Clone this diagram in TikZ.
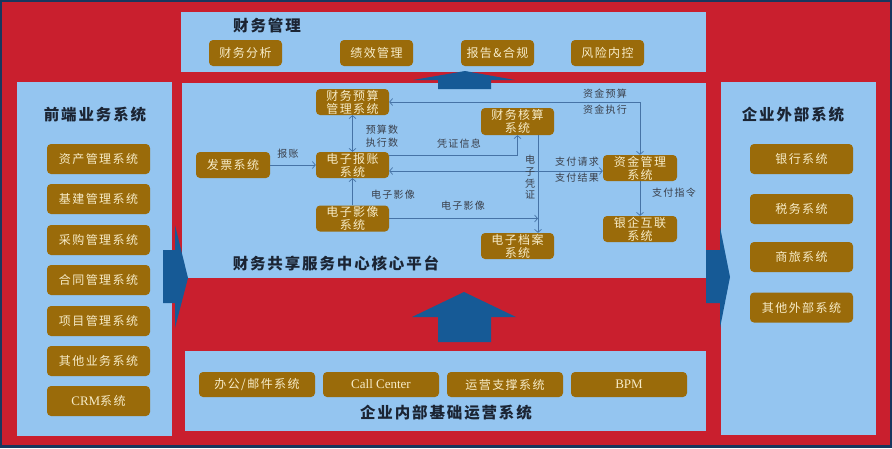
\documentclass[tikz,border=0pt]{standalone}
\usepackage{fontspec}
\setmainfont{Liberation Serif}
\newfontfamily\cjk[LetterSpace=12]{Noto Sans CJK SC}
\usetikzlibrary{arrows.meta}
\definecolor{bgred}{HTML}{C91F2E}
\definecolor{navyc}{HTML}{17375E}
\definecolor{pblue}{HTML}{94C5F0}
\definecolor{abl}{HTML}{165A96}
\definecolor{gold}{HTML}{9A6B0A}
\definecolor{cream}{HTML}{F7ECC8}
\definecolor{ttlc}{HTML}{1B2433}
\definecolor{lnc}{HTML}{4673A6}
\definecolor{lbc}{HTML}{3A3F4A}
\begin{document}
\begin{tikzpicture}[x=1pt,y=-1pt,
 panel/.style={fill=pblue,draw=none},
 gbtn/.style={fill=gold,rounded corners=4pt,text=cream,font=\cjk\fontsize{12}{13}\selectfont,align=center,inner sep=0pt},
 sbtn/.style={gbtn,minimum width=73pt,minimum height=26pt},
 lbtn/.style={gbtn,minimum width=103pt,minimum height=30pt},
 bbtn/.style={gbtn,minimum width=116pt,minimum height=25pt},
 title/.style={text=ttlc,font=\cjk\bfseries\fontsize{15.5}{17}\selectfont,inner sep=0pt},
 lbl/.style={text=lbc,font=\cjk\fontsize{10}{13}\selectfont,inner sep=0pt,align=center},
 conn/.style={draw=lnc,line width=0.7pt,-{Straight Barb[length=3pt,width=7pt]}},
 conntwo/.style={draw=lnc,line width=0.7pt,{Straight Barb[length=3pt,width=7pt]}-{Straight Barb[length=3pt,width=7pt]}},
 bigarrow/.style={fill=abl,draw=none}]
\useasboundingbox (0,0) rectangle (892,448);
% background
\fill[navyc] (0,0) rectangle (892,448);
\fill[bgred] (2,2) rectangle (890,445);
% panels
\path[panel] (181,12) rectangle (706,72);
\path[panel] (17,82) rectangle (172,436);
\path[panel] (182,83) rectangle (706,278);
\path[panel] (721,82) rectangle (876,435);
\path[panel] (185,351) rectangle (706,431);
% big arrows
\path[bigarrow] (438,89) -- (438,80) -- (413,80) -- (465,71) -- (515,80) -- (491,80) -- (491,89) -- cycle;
\path[bigarrow] (438,342) -- (438,317) -- (412,317) -- (464,292) -- (516,317) -- (491,317) -- (491,342) -- cycle;
\path[bigarrow] (163,250) -- (175,250) -- (175,225) -- (188,278) -- (175,328) -- (175,303) -- (163,303) -- cycle;
\path[bigarrow] (706,250) -- (720,250) -- (720,227) -- (730,277) -- (720,328) -- (720,303) -- (706,303) -- cycle;
% top panel
\node[title] (tfm) at (267,26) {财务管理};
\node[sbtn] (t1) at (245.5,53) {财务分析};
\node[sbtn] (t2) at (376.5,53) {绩效管理};
\node[sbtn] (t3) at (497.5,53) {报告\&合规};
\node[sbtn] (t4) at (607.5,53) {风险内控};
% left panel
\node[title] (tqd) at (95,115) {前端业务系统};
\node[lbtn] (q1) at (98.5,159) {资产管理系统};
\node[lbtn] (q2) at (98.5,199) {基建管理系统};
\node[lbtn] (q3) at (98.5,240) {采购管理系统};
\node[lbtn] (q4) at (98.5,280) {合同管理系统};
\node[lbtn] (q5) at (98.5,321) {项目管理系统};
\node[lbtn] (q6) at (98.5,361) {其他业务系统};
\node[lbtn] (q7) at (98.5,401) {{\rmfamily\fontsize{13}{14}\selectfont CRM}系统};
% right panel
\node[title] (twb) at (793,115) {企业外部系统};
\node[lbtn] (r1) at (801.5,159) {银行系统};
\node[lbtn] (r2) at (801.5,209) {税务系统};
\node[lbtn] (r3) at (801.5,257) {商旅系统};
\node[lbtn] (r4) at (801.5,307.5) {其他外部系统};
% bottom panel
\node[bbtn] (b1) at (257,384.5) {办公/邮件系统};
\node[bbtn] (b2) at (381,384.5) {\rmfamily\fontsize{13}{14}\selectfont Call Center};
\node[bbtn] (b3) at (505,384.5) {运营支撑系统};
\node[bbtn] (b4) at (629,384.5) {\rmfamily\fontsize{13}{14}\selectfont BPM};
\node[title] (tnb) at (446,413) {企业内部基础运营系统};
% core panel
\node[title] (thx) at (336,263) {财务共享服务中心核心平台};
\node[sbtn] (ys) at (352.5,102) {财务预算\\管理系统};
\node[sbtn,minimum width=74pt] (fp) at (233,165) {发票系统};
\node[sbtn] (bz) at (352.5,165) {电子报账\\系统};
\node[sbtn] (yx) at (352.5,218.5) {电子影像\\系统};
\node[sbtn,minimum height=27pt] (hs) at (517.5,121.5) {财务核算\\系统};
\node[sbtn,minimum width=74pt] (zj) at (640,168) {资金管理\\系统};
\node[sbtn,minimum width=74pt] (yq) at (640,229) {银企互联\\系统};
\node[sbtn] (da) at (517.5,246) {电子档案\\系统};
\coordinate (vz) at ([xshift=20.5pt]hs.south);
% connectors
\draw[conn] (fp.east) -- (bz.west);
\draw[conntwo] (ys.south) -- (bz.north);
\draw[conn] (yx.north) -- (bz.south);
\draw[conn] ([yshift=10pt]bz.east) -| (hs.south);
\draw[conntwo] ([yshift=-3pt]zj.west) -- ([yshift=-3pt]zj.west -| bz.east);
\draw[conntwo] (zj.north) |- (ys.east);
\draw[conn] (vz) -- (vz |- da.north);
\draw[conn] (yx.east) -- (yx.east -| vz);
\draw[conn] (zj.south) -- (yq.north);
% labels
\node[lbl] (l1) at (288,154) {报账};
\node[lbl] (l2) at (382,136.5) {预算数\\执行数};
\node[lbl] (l3) at (393,195) {电子影像};
\node[lbl] (l4) at (459,144) {凭证信息};
\node[lbl] (l5a) at (577,162) {支付请求};
\node[lbl] (l5b) at (577,178) {支付结果};
\node[lbl] (l6a) at (605,94) {资金预算};
\node[lbl] (l6b) at (605,110) {资金执行};
\node[lbl,font=\cjk\fontsize{10}{11.7}\selectfont] (l7) at (530,177.5) {电\\子\\凭\\证};
\node[lbl] (l8) at (463,206) {电子影像};
\node[lbl] (l9) at (674,193) {支付指令};
\end{tikzpicture}
\end{document}
